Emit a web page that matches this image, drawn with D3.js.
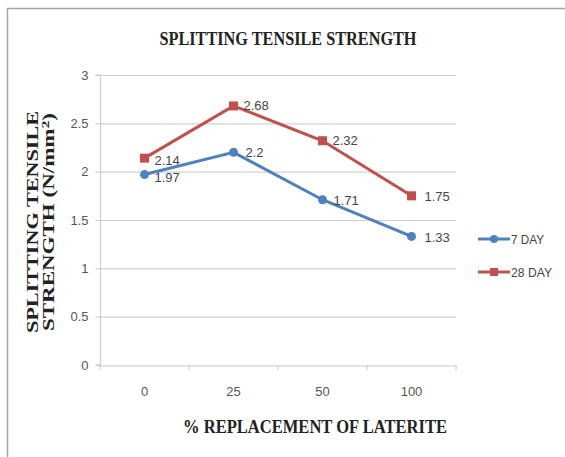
<!DOCTYPE html>
<html><head><meta charset="utf-8">
<script src="https://cdn.jsdelivr.net/npm/d3@7"></script>
<style>body{margin:0;background:#fff}</style>
</head><body>
<svg id="c" width="565" height="457"></svg>
<script>
const categories = ["0","25","50","100"];
const day7 = [1.97, 2.2, 1.71, 1.33];
const day28 = [2.14, 2.68, 2.32, 1.75];
const yTicks = [0, 0.5, 1, 1.5, 2, 2.5, 3];
const seriesNames = ["7 DAY", "28 DAY"];

(function(){
const svg = d3.select("#c");
svg.append("rect").attr("x",7.5).attr("y",8.5).attr("width",600).attr("height",500)
  .attr("fill","#fff").attr("stroke","#a6a6a6").attr("stroke-width",1.5);

const pL=100, pR=456, pT=75, pB=365;
const x = d3.scaleBand().domain(categories).range([pL,pR]);
const y = d3.scaleLinear().domain([0,3]).range([pB,pT]);
const sans = "'Liberation Sans',sans-serif";
const serif = "'Liberation Serif',serif";

svg.append("g").selectAll("line").data(yTicks.filter(d=>d>0)).join("line")
  .attr("x1",pL).attr("x2",pR).attr("y1",d=>y(d)+0.5).attr("y2",d=>y(d)+0.5)
  .attr("stroke","#d0d0d0").attr("stroke-width",1.2);

const ya = svg.append("g").attr("transform",`translate(${pL+0.5},0)`)
  .call(d3.axisLeft(y).tickValues(yTicks).tickSize(5).tickPadding(7).tickFormat(d=>d));
ya.select(".domain").attr("stroke","#c8c8c8").attr("d",`M-5,${pB}H0V${pT}H-5`);
ya.selectAll(".tick line").attr("stroke","#c8c8c8");
ya.selectAll("text").attr("fill","#555").style("font-family",sans).style("font-size","13px");

const xa = svg.append("g").attr("transform",`translate(0,${pB+0.5})`)
  .call(d3.axisBottom(x).tickSize(0).tickPadding(21));
xa.select(".domain").attr("stroke","#c8c8c8").attr("stroke-width",1.2);
xa.selectAll("text").attr("fill","#555").style("font-family",sans).style("font-size","13px");
const bounds = categories.map(c=>x(c)).concat([pR]);
svg.append("g").selectAll("line").data(bounds).join("line")
  .attr("x1",d=>d).attr("x2",d=>d).attr("y1",pB).attr("y2",pB+5)
  .attr("stroke","#c8c8c8");

const cx = d=>x(d)+x.bandwidth()/2;
const line = d3.line().x((d,i)=>cx(categories[i])).y(d=>y(d));

function drawSeries(vals,color,shape,labelOffsets){
  svg.append("path").datum(vals).attr("d",line).attr("fill","none")
    .attr("stroke",color).attr("stroke-width",3);
  const g = svg.append("g");
  vals.forEach((v,i)=>{
    const px=cx(categories[i]), py=y(v);
    if(shape==="circle") g.append("circle").attr("cx",px).attr("cy",py).attr("r",4.5).attr("fill",color);
    else g.append("rect").attr("x",px-4.5).attr("y",py-4.5).attr("width",9).attr("height",9).attr("fill",color);
    const o = labelOffsets[i];
    g.append("text").attr("x",px+o[0]).attr("y",py+o[1]).attr("dy","0.35em")
      .attr("fill","#444").style("font-family",sans).style("font-size","13px")
      .text(v);
  });
}
drawSeries(day28,"#c0504d","square",[[10,2],[10,0],[10,0],[13,1]]);
drawSeries(day7,"#4f81bd","circle",[[10,3],[12,0],[11,1],[13,1]]);

const leg = [{n:seriesNames[0],c:"#4f81bd",s:"circle",y:239},{n:seriesNames[1],c:"#c0504d",s:"square",y:272}];
leg.forEach(l=>{
  svg.append("line").attr("x1",478).attr("x2",510).attr("y1",l.y).attr("y2",l.y).attr("stroke",l.c).attr("stroke-width",3);
  if(l.s==="circle") svg.append("circle").attr("cx",494).attr("cy",l.y).attr("r",4).attr("fill",l.c);
  else svg.append("rect").attr("x",490).attr("y",l.y-4).attr("width",8).attr("height",8).attr("fill",l.c);
  svg.append("text").attr("x",511).attr("y",l.y).attr("dy","0.35em").attr("fill","#444")
    .attr("textLength",seriesNames.indexOf(l.n)===0?33:41).attr("lengthAdjust","spacingAndGlyphs")
    .style("font-family",sans).style("font-size","13px").text(l.n);
});

svg.append("text").attr("x",288).attr("y",45).attr("text-anchor","middle")
  .attr("textLength",257).attr("lengthAdjust","spacingAndGlyphs")
  .style("font-family",serif).style("font-weight","bold").style("font-size","19px")
  .attr("fill","#222").text("SPLITTING TENSILE STRENGTH");
svg.append("text").attr("x",315).attr("y",433).attr("text-anchor","middle")
  .attr("textLength",264).attr("lengthAdjust","spacingAndGlyphs")
  .style("font-family",serif).style("font-weight","bold").style("font-size","19px")
  .attr("fill","#222").text("% REPLACEMENT OF LATERITE");
const yl = svg.append("g").attr("transform","translate(0,222) rotate(-90)");
yl.append("text").attr("x",0).attr("y",38).attr("text-anchor","middle")
  .attr("textLength",222).attr("lengthAdjust","spacingAndGlyphs")
  .style("font-family",serif).style("font-weight","bold").style("font-size","16px").attr("fill","#222")
  .text("SPLITTING TENSILE");
const t2 = yl.append("text").attr("x",0).attr("y",54).attr("text-anchor","middle")
  .attr("textLength",218).attr("lengthAdjust","spacingAndGlyphs")
  .style("font-family",serif).style("font-weight","bold").style("font-size","16px").attr("fill","#222");
t2.append("tspan").text("STRENGTH (N/mm");
t2.append("tspan").attr("dy",-5).style("font-size","11px").text("2");
t2.append("tspan").attr("dy",5).text(")");
})();
</script>
</body></html>
